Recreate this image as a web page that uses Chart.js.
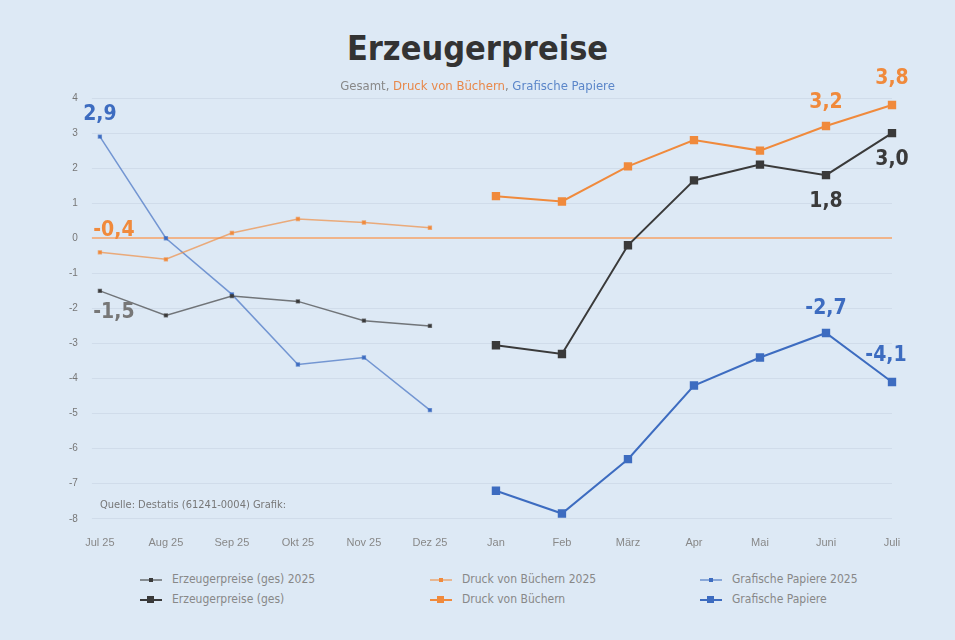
<!DOCTYPE html>
<html><head><meta charset="utf-8">
<script src="https://cdn.jsdelivr.net/npm/chart.js@4"></script>
<style>
  body { margin:0; background:#dde9f5; font-family:'DejaVu Sans Condensed','Liberation Sans Narrow',sans-serif; }
  #wrap { width:955px; height:640px; position:relative; }
  h1 { margin:0; position:absolute; top:28px; width:100%; text-align:center; font-size:34px; color:#333; font-weight:bold; }
  #sub { position:absolute; top:78px; width:100%; text-align:center; font-size:13px; color:#888; z-index:2; }
  #chartBox { position:absolute; left:0; top:60px; width:940px; height:500px; }
  #legend { position:absolute; top:572px; left:140px; display:grid; grid-template-columns:290px 270px 260px; row-gap:6px; font-size:12px; color:#888; }
  #legend span.sw { display:inline-block; width:22px; height:2px; vertical-align:middle; margin-right:10px; position:relative; }
  #legend span.sw i { position:absolute; left:7px; top:-3px; width:7px; height:7px; }
</style></head>
<body><div id="wrap">
<h1>Erzeugerpreise</h1>
<div id="sub">Gesamt, <span style="color:#e8884a">Druck von Büchern</span>, <span style="color:#5b86c9">Grafische Papiere</span></div>
<div id="chartBox"><canvas id="c"></canvas></div>
<div id="legend"></div>
</div>
<script>
// categories and values
const months = ['Jul 25','Aug 25','Sep 25','Okt 25','Nov 25','Dez 25','Jan','Feb','März','Apr','Mai','Juni','Juli'];
const gesamt25  = [-1.5, -2.2, -1.65, -1.8, -2.35, -2.5, null, null, null, null, null, null, null];
const druck25   = [-0.4, -0.6, 0.15, 0.55, 0.45, 0.3, null, null, null, null, null, null, null];
const papier25  = [2.9, 0.0, -1.6, -3.6, -3.4, -4.9, null, null, null, null, null, null, null];
const gesamt26  = [null, null, null, null, null, null, -3.05, -3.3, -0.2, 1.65, 2.1, 1.8, 3.0];
const druck26   = [null, null, null, null, null, null, 1.2, 1.05, 2.05, 2.8, 2.5, 3.2, 3.8];
const papier26  = [null, null, null, null, null, null, -7.2, -7.85, -6.3, -4.2, -3.4, -2.7, -4.1];
const yTicks = [4, 3, 2, 1, 0, -1, -2, -3, -4, -5, -6, -7, -8];

// value labels: [dataset index, point index, text, dx, dy]
const valueLabels = [
  [2, 0, '2,9', 0, -22], [1, 0, '-0,4', 14, -22], [0, 0, '-1,5', 14, 22],
  [4, 11, '3,2', 0, -24], [4, 12, '3,8', 0, -26],
  [3, 11, '1,8', 0, 26], [3, 12, '3,0', 0, 26],
  [5, 11, '-2,7', 0, -24], [5, 12, '-4,1', -6, -26],
];

const GREY = '#3a3a3a', ORANGE = '#f08a3c', BLUE = '#3d6cc0';

function ds(label, data, color, thin) {
  return {
    label, data, borderColor: thin ? color + 'aa' : color, backgroundColor: color,
    borderWidth: thin ? 1.5 : 2, pointRadius: thin ? 2 : 4.5, pointStyle: 'rect',
    spanGaps: false, tension: 0, clip: false,
  };
}

const labelPlugin = {
  id: 'labels',
  afterDatasetsDraw(chart) {
    const ctx = chart.ctx;
    ctx.save();
    ctx.font = 'bold 21px "DejaVu Sans Condensed", sans-serif';
    ctx.textAlign = 'center'; ctx.textBaseline = 'middle';
    for (const [d, i, t, dx, dy] of valueLabels) {
      const p = chart.getDatasetMeta(d).data[i];
      const c = chart.data.datasets[d].backgroundColor;
      ctx.fillStyle = d === 0 ? '#777' : c;
      ctx.fillText(t, p.x + dx, p.y + dy);
    }
    const a = chart.chartArea;
    ctx.font = '11px "DejaVu Sans Condensed", sans-serif';
    ctx.textAlign = 'left';
    ctx.fillStyle = '#777';
    ctx.fillText('Quelle: Destatis (61241-0004) Grafik: ', a.left, a.bottom - 14);
    ctx.restore();
  }
};

new Chart(document.getElementById('c'), {
  type: 'line',
  data: {
    labels: months,
    datasets: [
      ds('Erzeugerpreise (ges) 2025', gesamt25, GREY, true),
      ds('Druck von Büchern 2025', druck25, ORANGE, true),
      ds('Grafische Papiere 2025', papier25, BLUE, true),
      ds('Erzeugerpreise (ges)', gesamt26, GREY, false),
      ds('Druck von Büchern', druck26, ORANGE, false),
      ds('Grafische Papiere', papier26, BLUE, false),
    ],
  },
  options: {
    responsive: true, maintainAspectRatio: false, animation: false,
    layout: { padding: { left: 55, top: 38, right: 48 } },
    plugins: { legend: { display: false }, tooltip: { enabled: false } },
    scales: {
      x: {
        offset: false,
        grid: { display: false }, border: { display: false },
        ticks: { color: '#888', font: { size: 11 }, padding: 10 },
      },
      y: {
        min: -8, max: 4,
        afterBuildTicks: ax => { ax.ticks = yTicks.map(v => ({ value: v })); },
        grid: { color: c => c.tick && c.tick.value === 0 ? '#f0b48a' : '#d0dcea', lineWidth: c => c.tick && c.tick.value === 0 ? 2 : 1 },
        border: { display: false },
        ticks: { color: '#777', font: { size: 10 }, padding: 14, callback: v => v },
      },
    },
  },
  plugins: [labelPlugin],
});

// HTML legend, 3 columns x 2 rows
const lg = document.getElementById('legend');
const items = [['Erzeugerpreise (ges) 2025', GREY, 1], ['Druck von Büchern 2025', ORANGE, 1], ['Grafische Papiere 2025', BLUE, 1],
               ['Erzeugerpreise (ges)', GREY, 0], ['Druck von Büchern', ORANGE, 0], ['Grafische Papiere', BLUE, 0]];
for (const [t, c, thin] of items) {
  const el = document.createElement('div');
  el.innerHTML = `<span class="sw" style="background:${c}${thin ? '88' : ''}"><i style="background:${c};${thin ? 'width:4px;height:4px;top:-1px;left:9px' : ''}"></i></span>${t}`;
  lg.appendChild(el);
}
</script>
</body></html>
